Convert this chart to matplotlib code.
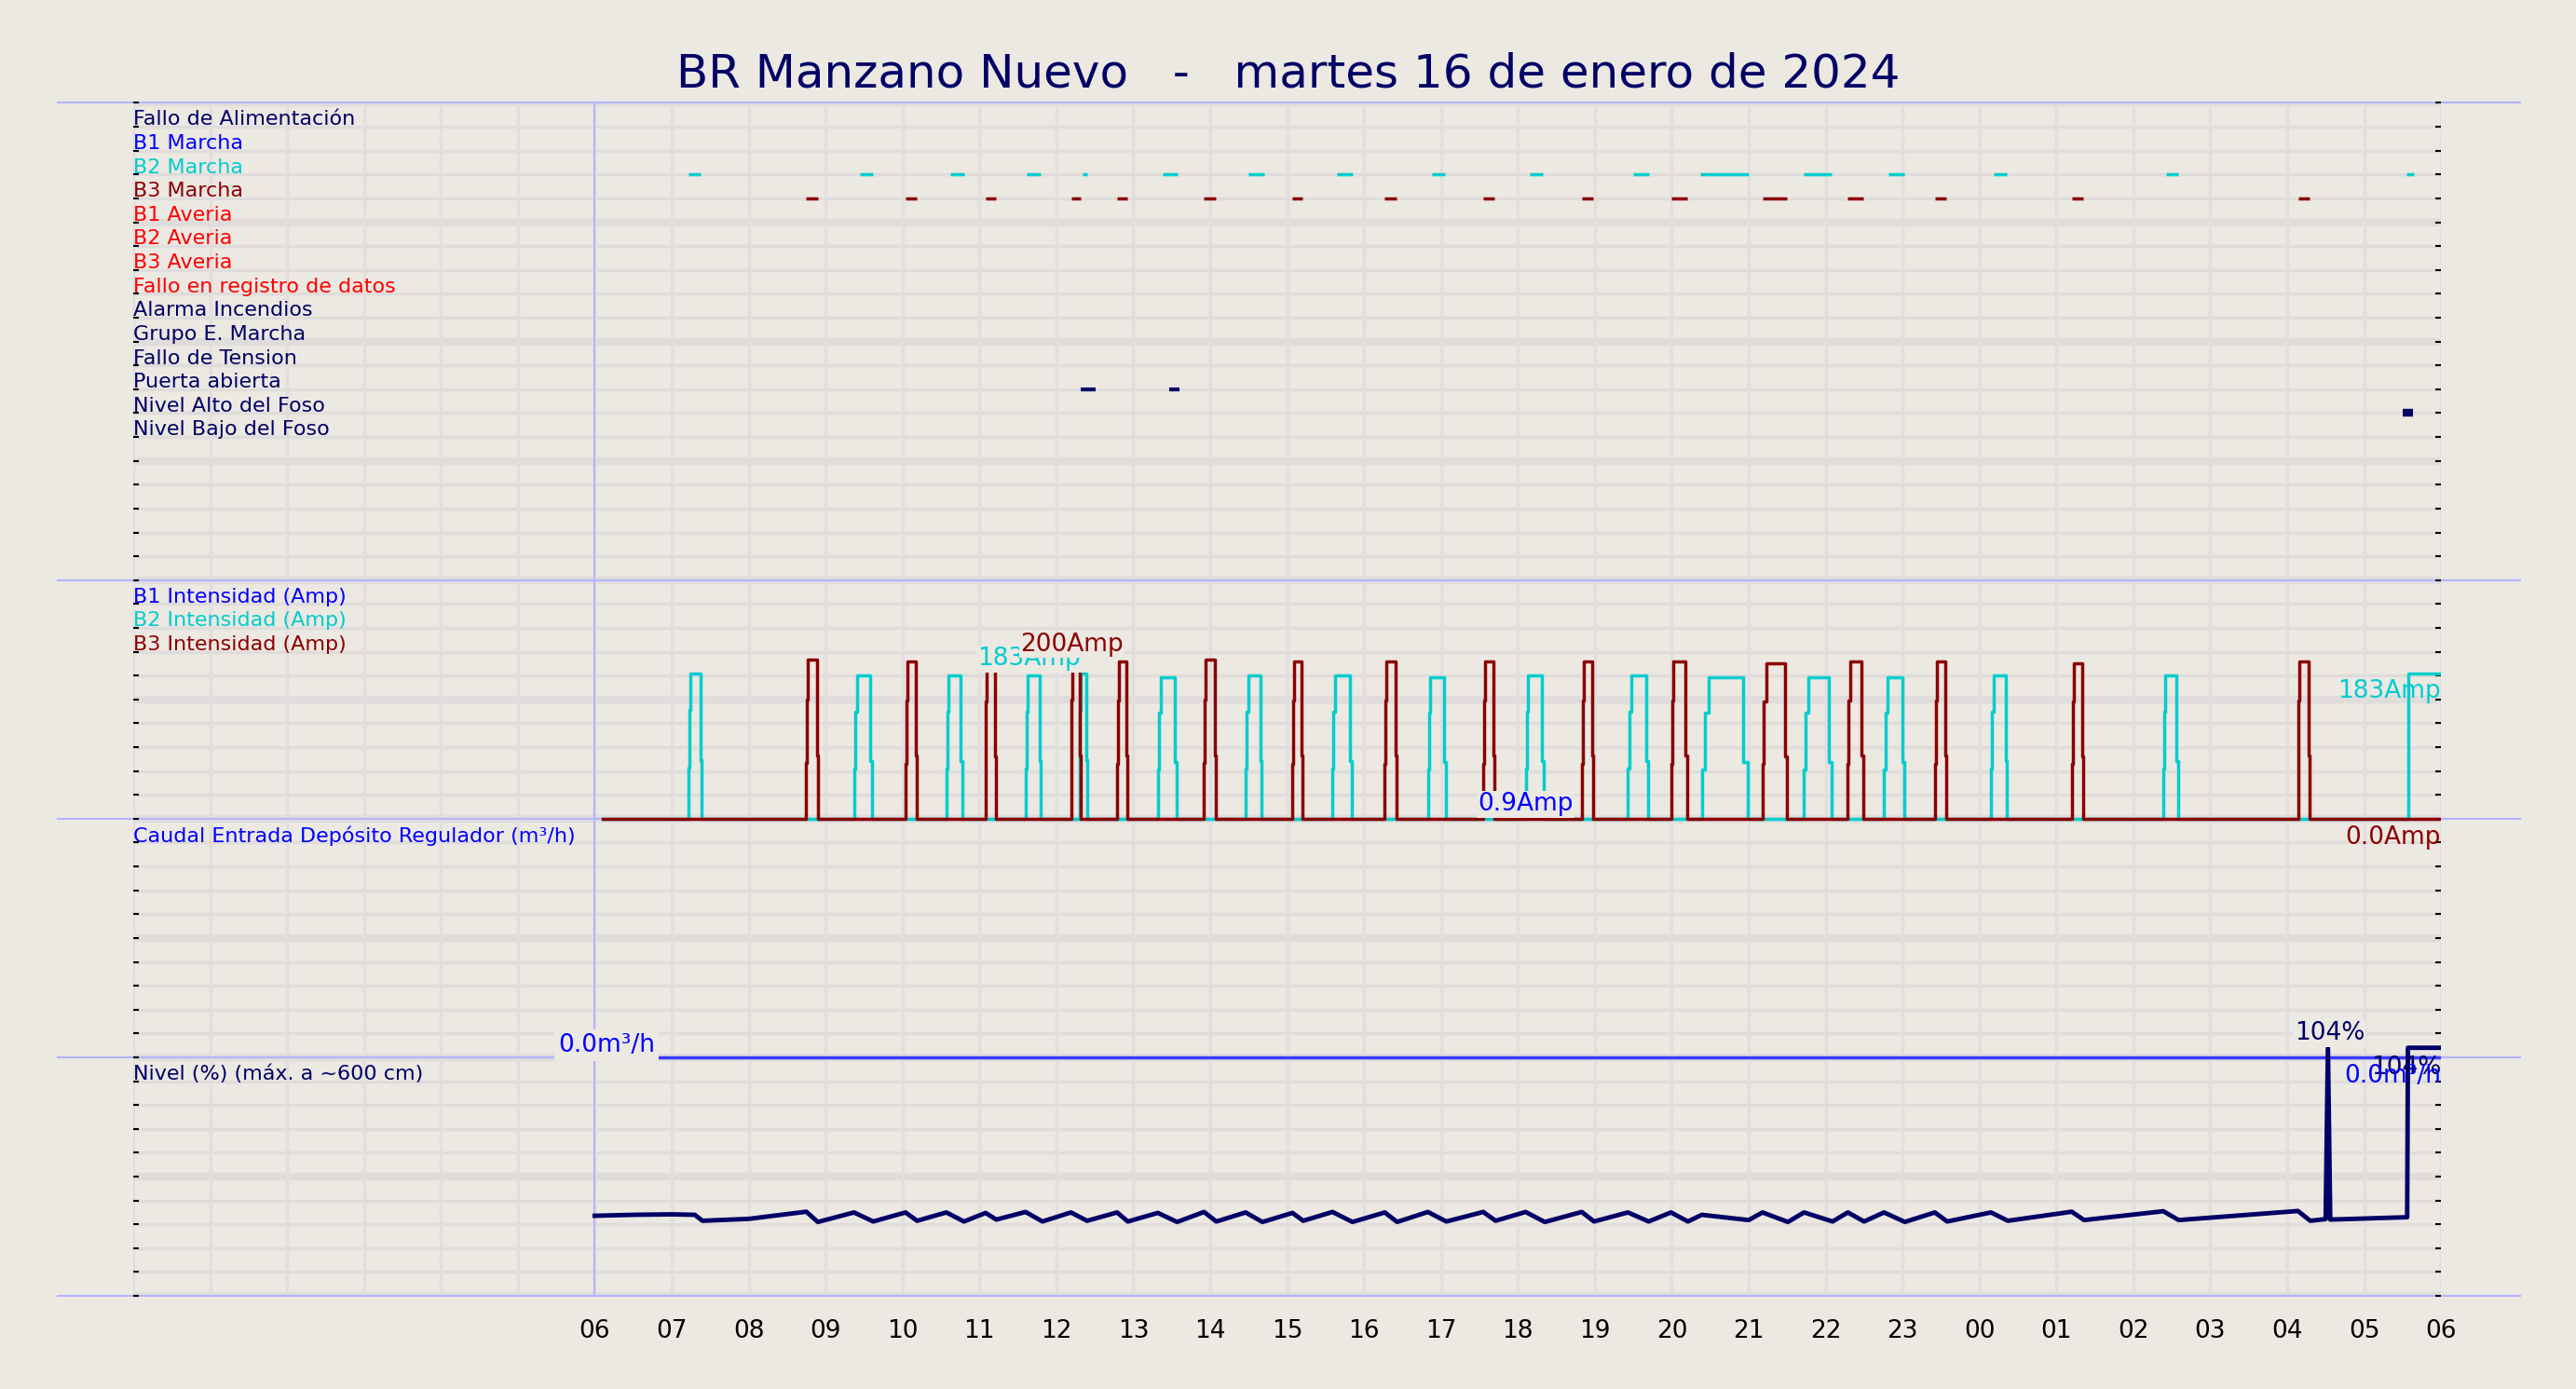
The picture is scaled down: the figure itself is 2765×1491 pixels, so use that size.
import matplotlib
matplotlib.use("Agg")
import matplotlib.pyplot as plt
import numpy as np

BG = "#ece8e2"
NAVY = "#000066"
CYAN = "#00cdcd"
DRED = "#8b0000"

signal_labels = ["Fallo de Alimentación", "B1 Marcha", "B2 Marcha", "B3 Marcha", "B1 Averia",
                 "B2 Averia", "B3 Averia", "Fallo en registro de datos", "Alarma Incendios",
                 "Grupo E. Marcha", "Fallo de Tension", "Puerta abierta", "Nivel Alto del Foso",
                 "Nivel Bajo del Foso"]
signal_colors = [NAVY, "#0000ff", CYAN, DRED, "#ff0000", "#ff0000", "#ff0000", "#ff0000",
                 NAVY, NAVY, NAVY, NAVY, NAVY, NAVY]

# pump run intervals (hours from 00:00 of the 16th; >24 = next day)
b2_start = [7.22, 9.37, 10.57, 11.60, 12.30, 13.32, 14.46, 15.59, 16.83, 18.10, 19.43, 20.39, 21.72, 22.76, 24.15, 26.39, 29.57]
b2_end   = [7.39, 9.61, 10.78, 11.80, 12.40, 13.56, 14.67, 15.84, 17.06, 18.34, 19.69, 20.99, 22.08, 23.02, 24.36, 26.58, 30.00]
b2_peak  = [183, 180, 180, 180, 183, 178, 180, 180, 178, 180, 180, 178, 178, 178, 180, 180, 183]
b2_marcha_start = [7.22, 9.45, 10.62, 11.62, 12.34, 13.38, 14.50, 15.65, 16.88, 18.15, 19.50, 20.37, 21.72, 22.82, 24.18, 26.42, 29.55]
b2_marcha_end   = [7.38, 9.62, 10.80, 11.80, 12.40, 13.58, 14.70, 15.85, 17.05, 18.32, 19.70, 21.00, 22.08, 23.02, 24.36, 26.58, 29.65]
b3_start = [8.75, 10.04, 11.08, 12.19, 12.79, 13.92, 15.07, 16.27, 17.55, 18.83, 19.99, 21.18, 22.29, 23.42, 25.20, 28.14]
b3_end   = [8.90, 10.19, 11.21, 12.32, 12.92, 14.07, 15.20, 16.42, 17.70, 18.98, 20.20, 21.50, 22.49, 23.57, 25.35, 28.29]
b3_peak  = [200, 198, 196, 200, 198, 200, 198, 198, 198, 198, 198, 196, 198, 198, 196, 198]

puerta_start = [12.32, 13.47]
puerta_end = [12.51, 13.60]
nivel_alto_start = [29.50]
nivel_alto_end = [29.64]

level_t = [6.00, 6.50, 7.00, 7.30, 7.40, 8.00, 8.75, 8.90, 9.37, 9.62, 10.04, 10.19, 10.57, 10.80,
           11.08, 11.22, 11.60, 11.82, 12.19, 12.40, 12.79, 12.93, 13.32, 13.57, 13.92, 14.08,
           14.46, 14.68, 15.07, 15.21, 15.59, 15.85, 16.27, 16.43, 16.83, 17.07, 17.55, 17.71,
           18.10, 18.35, 18.83, 18.99, 19.43, 19.70, 19.99, 20.21, 20.39, 21.00, 21.18, 21.51,
           21.72, 22.09, 22.29, 22.50, 22.76, 23.03, 23.42, 23.58, 24.15, 24.37, 25.20, 25.36,
           26.39, 26.59, 28.14, 28.30, 28.50, 28.53, 28.56, 29.56, 29.57, 30.00]
level_v = [33.6, 34.0, 34.2, 34.0, 31.5, 32.3, 35.3, 31.0, 35.0, 31.2, 35.0, 31.5, 35.0, 31.2,
           34.8, 32.0, 35.2, 31.2, 35.0, 31.5, 35.0, 31.2, 34.8, 31.0, 35.2, 31.2,
           35.0, 31.0, 34.8, 31.5, 35.2, 31.0, 35.0, 31.0, 35.2, 31.2, 35.2, 31.5,
           35.2, 31.0, 35.2, 31.2, 35.0, 31.2, 35.0, 31.2, 34.0, 31.8, 35.0, 31.0,
           35.0, 31.2, 35.0, 31.2, 35.0, 31.0, 35.0, 31.2, 35.0, 31.5, 35.3, 31.8,
           35.5, 31.8, 35.6, 31.5, 32.2, 104.0, 32.0, 33.0, 104.0, 104.0]

flow_t = [6.0, 30.0]
flow_v = [0.0, 0.0]

hours = list(range(6, 31))
hour_labels = ["%02d" % (h % 24) for h in hours]

AMP_SCALE = 10 / 300.0
LEVEL_SCALE = 10 / 100.0

fig = plt.figure(figsize=(27.65, 14.91), dpi=100, facecolor=BG)
ax = fig.add_axes([0.0517, 0.067, 0.8959, 0.8589], facecolor=BG)
ax.set_xlim(0, 30)
ax.set_ylim(0, 50)
for s in ax.spines.values():
    s.set_visible(False)

for y in range(0, 51):
    ax.axhline(y, color="#e0dcdb", lw=6 if y % 5 == 0 else 2.5, zorder=0)
for h in range(0, 31):
    ax.axvline(h, color="#e2dedd", lw=2.5, zorder=0)

for y in [50, 30, 20, 10, 0]:
    ax.plot([-0.98, 31.03], [y, y], color="#b4b4ff", lw=1.5, clip_on=False, zorder=1)
ax.axvline(6, color="#b4b4ff", lw=1.5, zorder=1)

ax.set_yticks(range(0, 51))
ax.tick_params(axis="y", left=True, right=True, labelleft=False, length=4, width=1.5, direction="in", color="black")
ax.set_xticks(hours)
ax.set_xticklabels(hour_labels, fontsize=19)
ax.tick_params(axis="x", length=0, pad=18)

for i, (lab, c) in enumerate(zip(signal_labels, signal_colors)):
    ax.text(0.0, 49.3 - i, lab, color=c, fontsize=16, va="center", ha="left")

def draw_intervals(starts, ends, row, color, lw=2.5):
    yv = 49 - row
    for s, e in zip(starts, ends):
        ax.plot([s, e], [yv, yv], color=color, lw=lw, solid_capstyle="butt", zorder=3)

draw_intervals(b2_marcha_start, b2_marcha_end, 2, CYAN)
draw_intervals(b3_start, b3_end, 3, DRED)
draw_intervals(puerta_start, puerta_end, 11, NAVY, 3)
draw_intervals(nivel_alto_start, nivel_alto_end, 12, NAVY, 6)

def pulse_series(starts, ends, peaks):
    t = [6.1]; v = [0.0]
    for s, e, p in zip(starts, ends, peaks):
        d = (e - s)
        if e >= 30.0:
            t += [s, s, e]
            v += [0, p, p]
            continue
        t += [s, s, s + 0.06 * d, s + 0.06 * d, s + 0.15 * d, s + 0.15 * d, e - 0.1 * d, e - 0.1 * d, e, e]
        v += [0, 0.35 * p, 0.35 * p, 0.75 * p, 0.75 * p, p, p, 0.4 * p, 0.4 * p, 0]
    if t[-1] < 30.0:
        t.append(30.0); v.append(v[-1])
    return np.array(t), np.array(v)

t2, v2 = pulse_series(b2_start, b2_end, b2_peak)
t3, v3 = pulse_series(b3_start, b3_end, b3_peak)
ax.plot(t2, 20 + v2 * AMP_SCALE, color=CYAN, lw=2.5, zorder=3)
ax.plot(t3, 20 + v3 * AMP_SCALE, color=DRED, lw=2.5, zorder=4)

ax.text(0.0, 29.3, "B1 Intensidad (Amp)", color="#0000ff", fontsize=16, va="center")
ax.text(0.0, 28.3, "B2 Intensidad (Amp)", color=CYAN, fontsize=16, va="center")
ax.text(0.0, 27.3, "B3 Intensidad (Amp)", color=DRED, fontsize=16, va="center")
ax.text(11.65, 26.7, "183Amp", color=CYAN, fontsize=19, ha="center", va="center",
        bbox=dict(facecolor=BG, edgecolor="none", pad=1), zorder=5)
ax.text(12.2, 27.3, "200Amp", color=DRED, fontsize=19, ha="center", va="center",
        bbox=dict(facecolor=BG, edgecolor="none", pad=1), zorder=6)
ax.text(30.0, 25.35, "183Amp", color=CYAN, fontsize=19, ha="right", va="center", zorder=5)
ax.text(18.1, 20.6, "0.9Amp", color="#0000ff", fontsize=19, ha="center", va="center",
        bbox=dict(facecolor=BG, edgecolor="none", pad=1), zorder=6)
ax.text(30.0, 19.2, "0.0Amp", color=DRED, fontsize=19, ha="right", va="center", zorder=5)

ax.plot(flow_t, [10 + f for f in flow_v], color="#3a3aff", lw=2.5, zorder=3)
ax.text(0.0, 19.3, "Caudal Entrada Depósito Regulador (m³/h)", color="#0000ff", fontsize=16, va="center")
ax.text(6.15, 10.5, "0.0m³/h", color="#0000ff", fontsize=19, ha="center", va="center",
        bbox=dict(facecolor=BG, edgecolor="none", pad=3), zorder=6)

ax.plot(level_t, [v * LEVEL_SCALE for v in level_v], color=NAVY, lw=3.5, zorder=4)
ax.plot([28.53, 28.53], [level_v[-5] * LEVEL_SCALE, 104 * LEVEL_SCALE], color=NAVY, lw=8, zorder=4)
ax.text(0.0, 9.3, "Nivel (%) (máx. a ~600 cm)", color=NAVY, fontsize=16, va="center")
ax.text(28.55, 11.0, "104%", color=NAVY, fontsize=19, ha="center", va="center",
        bbox=dict(facecolor=BG, edgecolor="none", pad=1), zorder=6)
ax.text(30.0, 9.57, "104%", color=NAVY, fontsize=19, ha="right", va="center", zorder=6)
ax.text(30.0, 9.22, "0.0m³/h", color="#0000ff", fontsize=19, ha="right", va="center", zorder=7)

fig.text(0.5, 0.947, "BR Manzano Nuevo   -   martes 16 de enero de 2024", color=NAVY,
         fontsize=36, ha="center", va="center")

fig.savefig("out.png", dpi=100, facecolor=BG)
